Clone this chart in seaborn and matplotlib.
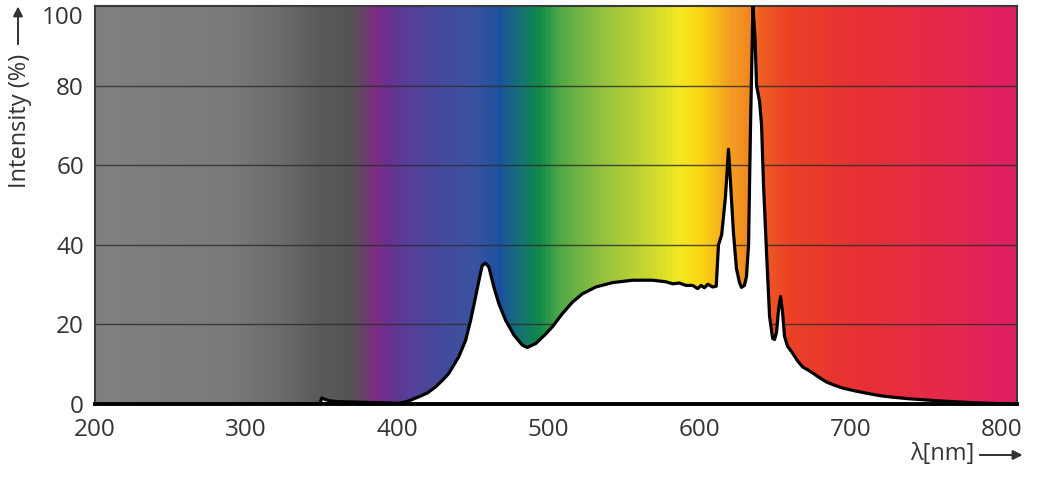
import numpy as np
import pandas as pd
import seaborn as sns
import matplotlib.pyplot as plt
from matplotlib.colors import LinearSegmentedColormap

# spectrum (wavelength nm, relative intensity %)
wavelength = [200, 348, 349, 350, 352, 355, 361, 370, 380, 390, 400.9, 407,
              414.2, 420, 425.3, 430, 434.1, 440.7, 445.2, 448.5, 451.3, 454,
              456.2, 458.4, 460.6, 463.9, 467.2, 471.7, 477.2, 482.7, 486,
              491.6, 498.2, 502.6, 509.2, 515.9, 522.5, 531.4, 542.4, 555.6,
              568.9, 577.8, 582.2, 586.6, 591, 595.4, 598.7, 601, 603.2, 605.4,
              608.7, 611, 612.5, 614.6, 617.1, 619.1, 620.4, 622.4, 624.4,
              626.4, 627.7, 629.7, 631, 632.4, 633.7, 635.3, 636.7, 637.7,
              639.7, 641, 642.3, 644.3, 646.3, 648.3, 649.6, 650.9, 652.3,
              653.6, 654.9, 656.2, 658.2, 661.5, 664.9, 668.2, 671.5, 674.8,
              679.4, 684.1, 689.4, 694.7, 702.7, 710.6, 719.2, 727.9, 739.1,
              750.4, 762.3, 772.3, 785.5, 798.8, 810]
intensity = [0, 0, 0.3, 1.5, 1.2, 0.8, 0.6, 0.5, 0.4, 0.3, 0.2, 0.7,
             1.8, 2.8, 4.3, 6, 7.7, 11.9, 16, 21, 26, 31,
             34.8, 35.4, 34.4, 29.4, 25.2, 21, 17.3, 14.8, 14.2,
             15.2, 17.6, 19.4, 22.7, 25.6, 27.7, 29.4, 30.5, 31.1,
             31.1, 30.7, 30.2, 30.4, 29.8, 29.8, 29.0, 29.8, 29.2, 30.1,
             29.4, 29.6, 40, 42.5, 52, 64, 56, 43, 34,
             30.5, 29.3, 29.8, 32, 40, 70, 100, 92, 80,
             76, 70, 55, 38, 22, 16.5, 16.2, 18, 24,
             27, 23, 17, 14.5, 12.8, 10.8, 9.3, 8.6, 7.8,
             6.6, 5.5, 4.7, 4.0, 3.3, 2.7, 2.1, 1.7, 1.3,
             1.0, 0.7, 0.5, 0.25, 0.1, 0]

# background colour bands (nm, colour)
band_nm = [200, 288, 321, 348, 364.5, 374.4, 384.4, 393, 407.6, 427.5, 450.7,
           467.2, 477.2, 493.8, 507, 533.6, 566.7, 586.6, 599.9, 619.8, 634.4,
           639.7, 659.5, 699.3, 765.6, 810]
band_colors = ["#808080", "#7a7a7a", "#6c6c6c", "#5a5a5a", "#555555", "#5f4a60",
               "#7d2d82", "#6a3090", "#56409a", "#454a9c", "#3a52a0", "#1e50a0",
               "#166a80", "#108a48", "#50a848", "#90c040", "#c8d830", "#f5e820",
               "#fbd812", "#f4a020", "#f08322", "#ee6023", "#eb4226", "#e83232",
               "#e5284c", "#e01e66"]

xticks = [200, 300, 400, 500, 600, 700, 800]
yticks = [0, 20, 40, 60, 80, 100]

df = pd.DataFrame({"nm": wavelength, "pct": intensity})

sns.set_theme(style="white")
plt.rcParams["font.family"] = ["Open Sans", "DejaVu Sans"]

fig = plt.figure(figsize=(10.55, 4.94), dpi=100)
ax = fig.add_axes([95 / 1055, 90 / 494, 922 / 1055, 398 / 494])

xmin, xmax = 200, 810
stops = [(v - xmin) / (xmax - xmin) for v in band_nm]
cmap = LinearSegmentedColormap.from_list("spec", list(zip(stops, band_colors)))
grad = np.linspace(0, 1, 1200).reshape(1, -1)
ax.imshow(grad, cmap=cmap, aspect="auto", extent=[xmin, xmax, 0, 100],
          interpolation="bilinear", zorder=0)

for yv in yticks[1:-1]:
    ax.axhline(yv, color="#2e2e2e", lw=1.0, alpha=0.85, zorder=1)

ax.fill_between(df["nm"], 0, df["pct"], color="white", zorder=2, lw=0)
sns.lineplot(data=df, x="nm", y="pct", color="black", lw=2.3, ax=ax,
             zorder=3, sort=False)

ax.set_xlim(xmin, xmax)
ax.set_ylim(0, 100)
ax.set_xticks(xticks)
ax.set_yticks(yticks)
ax.tick_params(length=0, labelsize=17.5, labelcolor="#333333")
ax.tick_params(axis="x", pad=10)
ax.tick_params(axis="y", pad=8)
ax.get_yticklabels()[-1].set_va("top")
ax.set_xlabel("")
ax.set_ylabel("")

for side in ["left", "top", "right"]:
    ax.spines[side].set_color("#3a3a3a")
    ax.spines[side].set_linewidth(1.5)
ax.spines["bottom"].set_color("black")
ax.spines["bottom"].set_linewidth(2.8)

# axis captions with arrows
fig.text(20 / 1055, 1 - 121 / 494, "Intensity (%)", rotation=90,
         ha="center", va="center", fontsize=17, color="#333333")
fig.add_artist(plt.annotate("", xy=(18 / 1055, 1 - 4 / 494),
                            xytext=(18 / 1055, 1 - 47 / 494),
                            xycoords="figure fraction",
                            arrowprops=dict(arrowstyle="-|>", color="#333333",
                                            lw=1.2, mutation_scale=14)))
fig.text(942 / 1055, 1 - 454 / 494, "λ[nm]", ha="center", va="center",
         fontsize=17, color="#333333")
fig.add_artist(plt.annotate("", xy=(1025 / 1055, 1 - 455 / 494),
                            xytext=(977 / 1055, 1 - 455 / 494),
                            xycoords="figure fraction",
                            arrowprops=dict(arrowstyle="-|>", color="#333333",
                                            lw=1.2, mutation_scale=14)))

plt.savefig("out.png", dpi=100)
